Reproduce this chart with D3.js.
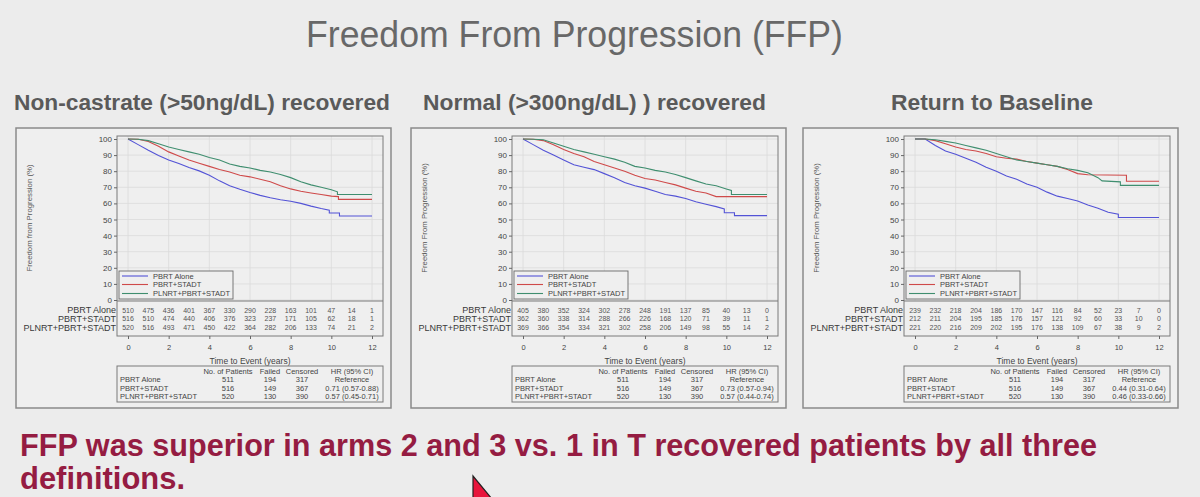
<!doctype html>
<html>
<head>
<script src="https://cdn.jsdelivr.net/npm/d3@7"></script>
<style>
  body { margin: 0; background: #ececec; }
  text { font-family: "Liberation Sans", Arial, sans-serif; }
</style>
</head>
<body>
<svg id="slide" width="1200" height="497"></svg>
<script>
// ---- data ----
var arms = ["PBRT Alone", "PBRT+STADT", "PLNRT+PBRT+STADT"];
var armColors = ["#5353d6", "#cf4a4a", "#3f8e6f"];
var panelTitles = ["Non-castrate (>50ng/dL) recovered", "Normal (>300ng/dL) ) recovered", "Return to Baseline"];
var yTitles = ["Freedom from Progression (%)", "Freedom From Progression (%)", "Freedom From Progression (%)"];
var riskYears = [0, 1, 2, 3, 4, 5, 6, 7, 8, 9, 10, 11, 12];
var xTicks = [0, 2, 4, 6, 8, 10, 12];
var yTicks = [0, 10, 20, 30, 40, 50, 60, 70, 80, 90, 100];
var summaryHeader = ["No. of Patients", "Failed", "Censored", "HR (95% CI)"];

// KM curves: [years, FFP %]
var p1Alone = [[0,100],[0.5,96.5],[1,93],[1.5,89.7],[2,87],[2.5,84.8],[3,82.3],[3.5,80.2],[4,77.5],[4.5,74],[5,71],[5.5,68.8],[6,66.8],[6.5,65],[7,63.5],[7.5,62.3],[8,61.3],[8.5,60],[9,58.3],[9.5,56.8],[9.9,55.8],[9.9,54],[10.4,54],[10.4,52.2],[12,52.2]];
var p1Stadt = [[0,100],[0.5,99.8],[1,98.5],[1.5,95.5],[2,92],[2.5,89.5],[3,87],[3.5,85],[4,83],[4.5,81],[5,79.5],[5.5,77.5],[6,76.5],[6.5,75],[7,73.5],[7.5,71],[8,69],[8.5,67.5],[9,66.5],[9.5,65.5],[10,64.5],[10.35,64.2],[10.35,62.5],[12,62.5]];
var p1Plnrt = [[0,100],[0.5,99.8],[1,99],[1.5,97],[2,95],[2.5,93.5],[3,92],[3.5,90.5],[4,88.5],[4.5,87],[5,84.5],[5.5,83],[6,82],[6.5,80.5],[7,79.5],[7.5,78],[8,76],[8.5,73.5],[9,71.5],[9.5,70],[10,68.5],[10.3,67.2],[10.3,65.5],[12,65.5]];

var p2Alone = [[0,100],[0.5,96.5],[1,93],[1.5,90],[2,87],[2.5,84],[3,82.5],[3.5,81],[4,78.5],[4.5,76],[5,73],[5.5,71],[6,69.5],[6.5,67.5],[7,65.5],[7.5,64.5],[8,63],[8.5,61],[9,59.5],[9.5,58],[9.9,56.5],[9.9,54.2],[10.4,54.2],[10.4,52.4],[12,52.4]];
var p2Stadt = [[0,100],[0.5,99.8],[1,99],[1.5,96.5],[2,93.5],[2.5,91],[3,89],[3.5,86],[4,84],[4.5,82],[5,80],[5.5,77.5],[6,75.5],[6.5,74.5],[7,73],[7.5,71.5],[8,69.5],[8.5,67.5],[9,66.5],[9.5,64.2],[12,64.2]];
var p2Plnrt = [[0,100],[0.5,99.8],[1,99.5],[1.5,97.5],[2,95.5],[2.5,93.5],[3,92],[3.5,90.5],[4,89],[4.5,87.5],[5,85.5],[5.5,83],[6,82],[6.5,80.5],[7,79.5],[7.5,78],[8,76],[8.5,74],[9,72],[9.5,71],[10,69],[10.25,68],[10.25,65.5],[12,65.5]];

var p3Alone = [[0,100],[0.5,100],[1,96],[1.5,92.5],[2,90.5],[2.5,88],[3,85.5],[3.5,82.5],[4,80],[4.5,77],[5,75],[5.5,72],[6,70],[6.5,67],[7,64.5],[7.5,63],[8,61.5],[8.5,59],[9,57],[9.5,54.5],[10,53.3],[10,51.2],[12,51.2]];
var p3Stadt = [[0,100],[0.5,100],[1,99],[1.5,97],[2,95],[2.5,93.5],[3,92.5],[3.5,91],[4,89],[4.5,88],[5,87.5],[5.5,86],[6,85],[6.5,84],[7,83],[7.5,81],[8,78.5],[8.5,77.8],[10.4,77.5],[10.4,73.8],[12,73.8]];
var p3Plnrt = [[0,100],[0.5,100],[1,99.5],[1.5,98.5],[2,97.5],[2.5,96],[3,94.5],[3.5,93],[4,91],[4.5,89],[5,87],[5.5,86],[6,85],[6.5,84],[7,83],[7.5,81.5],[8,80.5],[8.5,79],[9,76],[9.2,74],[10.1,73.4],[10.1,71.2],[12,71.2]];

// numbers at risk
var p1Risk = [[510,475,436,401,367,330,290,228,163,101,47,14,1],[516,510,474,440,406,376,323,237,171,105,62,18,1],[520,516,493,471,450,422,364,282,206,133,74,21,2]];
var p2Risk = [[405,380,352,324,302,278,248,191,137,85,40,13,0],[362,360,338,314,288,266,226,168,120,71,39,11,1],[369,366,354,334,321,302,258,206,149,98,55,14,2]];
var p3Risk = [[239,232,218,204,186,170,147,116,84,52,23,7,0],[212,211,204,195,185,176,157,121,92,60,33,10,0],[221,220,216,209,202,195,176,138,109,67,38,9,2]];

// summary tables
var p1Summary = [["511","194","317","Reference"],["516","149","367","0.71 (0.57-0.88)"],["520","130","390","0.57 (0.45-0.71)"]];
var p2Summary = [["511","194","317","Reference"],["516","149","367","0.73 (0.57-0.94)"],["520","130","390","0.57 (0.44-0.74)"]];
var p3Summary = [["511","194","317","Reference"],["516","149","367","0.44 (0.31-0.64)"],["520","130","390","0.46 (0.33-0.66)"]];

var panels = [
  {curves: [p1Alone, p1Stadt, p1Plnrt], risk: p1Risk, summary: p1Summary},
  {curves: [p2Alone, p2Stadt, p2Plnrt], risk: p2Risk, summary: p2Summary},
  {curves: [p3Alone, p3Stadt, p3Plnrt], risk: p3Risk, summary: p3Summary}
];
var panelLefts = [16, 411, 803];

var svg = d3.select("#slide");

// slide title
svg.append("text")
  .attr("x", 306).attr("y", 47)
  .attr("font-size", 36)
  .attr("fill", "#686868")
  .attr("textLength", 537).attr("lengthAdjust", "spacingAndGlyphs")
  .text("Freedom From Progression (FFP)");

var subX = [14, 423, 891];
var subW = [376, 343, 202];
panelTitles.forEach(function(t, i) {
  svg.append("text")
    .attr("x", subX[i]).attr("y", 110)
    .attr("font-size", 22.5)
    .attr("font-weight", "bold")
    .attr("fill", "#5a5a5a")
    .attr("textLength", subW[i]).attr("lengthAdjust", "spacingAndGlyphs")
    .text(t);
});

panels.forEach(function(p, i) {
  var fx = panelLefts[i];
  var pl = fx + 101, pr = fx + 367;
  var top = 136, riskTop = 301, riskBot = 336;

  var x = d3.scaleLinear().domain([0, 12]).range([pl + 11, pr - 11]);
  var y = d3.scaleLinear().domain([0, 100]).range([300, 139]);

  var g = svg.append("g");

  // outer frame
  g.append("rect")
    .attr("x", fx).attr("y", 128).attr("width", 375).attr("height", 280)
    .attr("fill", "#efefef").attr("stroke", "#8a8a8a").attr("stroke-width", 1.5);

  // gridlines
  g.append("g").selectAll("line").data(yTicks).enter().append("line")
    .attr("x1", pl).attr("x2", pr)
    .attr("y1", function(d) { return y(d); }).attr("y2", function(d) { return y(d); })
    .attr("stroke", "#dadada").attr("stroke-width", 0.8);
  g.append("g").selectAll("line").data(xTicks).enter().append("line")
    .attr("y1", top).attr("y2", riskTop)
    .attr("x1", function(d) { return x(d); }).attr("x2", function(d) { return x(d); })
    .attr("stroke", "#dadada").attr("stroke-width", 0.8);

  // curves
  var path = d3.line().x(function(d) { return x(d[0]); }).y(function(d) { return y(d[1]); });
  p.curves.forEach(function(c, k) {
    g.append("path").datum(c)
      .attr("d", path)
      .attr("fill", "none")
      .attr("stroke", armColors[k])
      .attr("stroke-width", 1.1);
  });

  // plot + risk table frame
  g.append("rect")
    .attr("x", pl).attr("y", top).attr("width", pr - pl).attr("height", riskBot - top)
    .attr("fill", "none").attr("stroke", "#7a7a7a").attr("stroke-width", 1);
  g.append("line")
    .attr("x1", pl).attr("x2", pr).attr("y1", riskTop).attr("y2", riskTop)
    .attr("stroke", "#7a7a7a").attr("stroke-width", 1);

  // y axis
  var yAxis = g.append("g")
    .attr("transform", "translate(" + pl + ",0)")
    .call(d3.axisLeft(y).tickValues(yTicks).tickSize(3).tickPadding(2));
  yAxis.select(".domain").remove();
  yAxis.selectAll("text").attr("font-size", 8).attr("fill", "#444").attr("font-family", "Liberation Sans, Arial, sans-serif");
  yAxis.selectAll("line").attr("stroke", "#666");

  // x axis below the risk table
  var xAxis = g.append("g")
    .attr("transform", "translate(0," + riskBot + ")")
    .call(d3.axisBottom(x).tickValues(xTicks).tickSize(3).tickPadding(6));
  xAxis.select(".domain").remove();
  xAxis.selectAll("text").attr("font-size", 7.5).attr("fill", "#444").attr("font-family", "Liberation Sans, Arial, sans-serif");
  xAxis.selectAll("line").attr("stroke", "#666");

  // y title
  g.append("text")
    .attr("transform", "translate(" + (fx + 16) + ",218) rotate(-90)")
    .attr("text-anchor", "middle")
    .attr("font-size", 7.8)
    .attr("fill", "#555")
    .text(yTitles[i]);

  // x title
  g.append("text")
    .attr("x", (pl + pr) / 2).attr("y", 364)
    .attr("text-anchor", "middle")
    .attr("font-size", 8.5)
    .attr("fill", "#444")
    .text("Time to Event (years)");

  // legend
  var lg = g.append("g");
  lg.append("rect")
    .attr("x", pl + 2).attr("y", 271).attr("width", 114).attr("height", 28)
    .attr("fill", "#efefef").attr("stroke", "#6a6a6a").attr("stroke-width", 0.9);
  var legY = [276, 284.5, 293.5];
  arms.forEach(function(a, k) {
    lg.append("line")
      .attr("x1", pl + 5).attr("x2", pl + 31)
      .attr("y1", legY[k]).attr("y2", legY[k])
      .attr("stroke", armColors[k]).attr("stroke-width", 1.1);
    lg.append("text")
      .attr("x", pl + 36).attr("y", legY[k] + 2.6)
      .attr("font-size", 7.5).attr("fill", "#444")
      .text(a);
  });

  // numbers at risk
  var riskY = [310, 318.5, 327.5];
  arms.forEach(function(a, k) {
    g.append("text")
      .attr("x", pl - 1).attr("y", riskY[k] + 3.2)
      .attr("text-anchor", "end")
      .attr("font-size", 9).attr("fill", "#3a3a3a")
      .text(a);
    g.append("g").selectAll("text").data(p.risk[k]).enter().append("text")
      .attr("x", function(d, j) { return x(riskYears[j]); })
      .attr("y", riskY[k] + 2.6)
      .attr("text-anchor", "middle")
      .attr("font-size", 7).attr("fill", "#555")
      .text(function(d) { return d; });
  });

  // summary table
  g.append("rect")
    .attr("x", pl).attr("y", 366).attr("width", pr - pl).attr("height", 36)
    .attr("fill", "none").attr("stroke", "#7a7a7a").attr("stroke-width", 1);
  var colX = [pl + 111, pl + 153, pl + 185, pl + 235];
  summaryHeader.forEach(function(h, c) {
    g.append("text")
      .attr("x", colX[c]).attr("y", 373.8)
      .attr("text-anchor", "middle")
      .attr("font-size", 7.5).attr("fill", "#444")
      .text(h);
  });
  var rowY = [382.3, 390.6, 399.3];
  arms.forEach(function(a, k) {
    g.append("text")
      .attr("x", pl + 3).attr("y", rowY[k])
      .attr("font-size", 7.5).attr("fill", "#444")
      .text(a);
    p.summary[k].forEach(function(v, c) {
      g.append("text")
        .attr("x", colX[c]).attr("y", rowY[k])
        .attr("text-anchor", "middle")
        .attr("font-size", 7.5).attr("fill", "#444")
        .text(v);
    });
  });
});

// conclusion text
var note = ["FFP was superior in arms 2 and 3 vs. 1 in T recovered patients by all three", "definitions."];
var noteW = [1077, 165];
note.forEach(function(t, i) {
  svg.append("text")
    .attr("x", 20).attr("y", 456 + i * 33)
    .attr("font-size", 30.5)
    .attr("font-weight", "bold")
    .attr("fill", "#951c42")
    .attr("textLength", noteW[i]).attr("lengthAdjust", "spacingAndGlyphs")
    .text(t);
});

// mouse pointer from the screen capture
svg.append("path")
  .attr("d", "M473,476 L473,499 L492,499 Z")
  .attr("fill", "#e8153c")
  .attr("stroke", "#222")
  .attr("stroke-width", 1.2);
</script>
</body>
</html>
